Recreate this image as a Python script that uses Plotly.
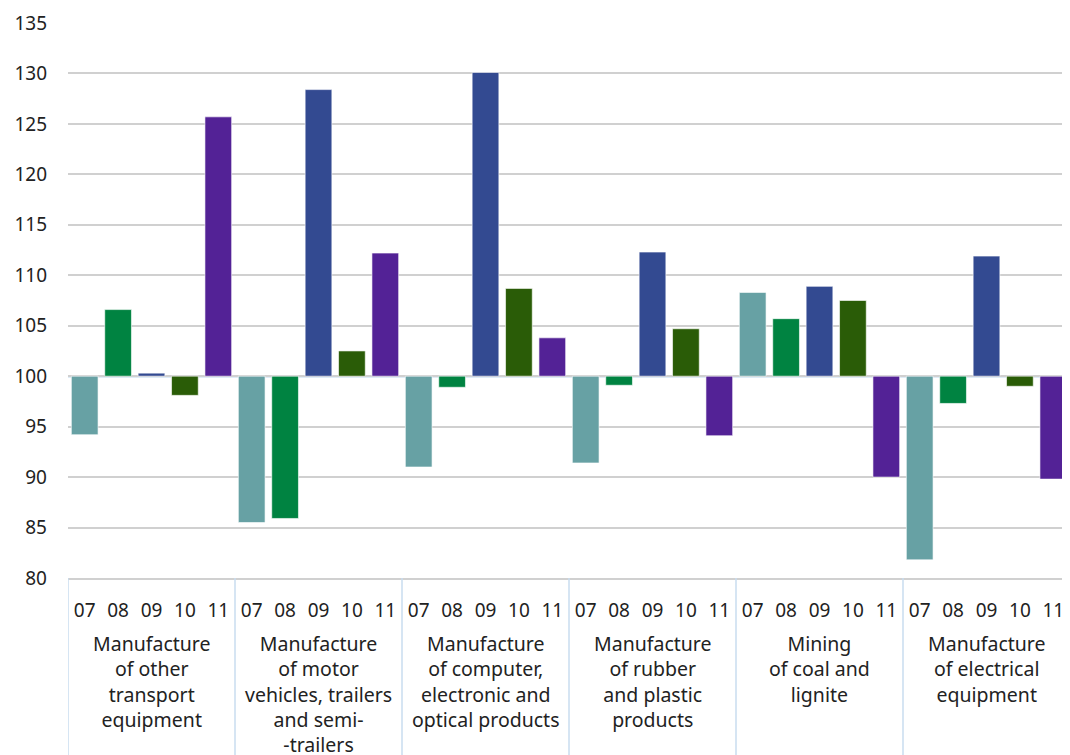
import plotly.graph_objects as go

categories = [
    "Manufacture<br>of other<br>transport<br>equipment",
    "Manufacture<br>of motor<br>vehicles, trailers<br>and semi-<br>-trailers",
    "Manufacture<br>of computer,<br>electronic and<br>optical products",
    "Manufacture<br>of rubber<br>and plastic<br>products",
    "Mining<br>of coal and<br>lignite",
    "Manufacture<br>of electrical<br>equipment",
]
periods = ["07", "08", "09", "10", "11"]

v07 = [94.2, 85.5, 91.0, 91.4, 108.3, 81.8]
v08 = [106.6, 85.9, 98.9, 99.1, 105.7, 97.3]
v09 = [100.3, 128.4, 130.1, 112.3, 108.9, 111.9]
v10 = [98.1, 102.5, 108.7, 104.7, 107.5, 99.0]
v11 = [125.7, 112.2, 103.8, 94.1, 90.0, 89.8]
series = [v07, v08, v09, v10, v11]

colors = ["#67A1A4", "#008341", "#334A91", "#2A5C07", "#532296"]
BASE = 100
FONT = "Noto Sans"

n_g = len(categories)
n_p = len(periods)

fig = go.Figure()
for pi, (p, vals, col) in enumerate(zip(periods, series, colors)):
    xs = [gi * n_p + pi for gi in range(n_g)]
    fig.add_trace(go.Bar(
        x=xs, y=[v - BASE for v in vals], base=BASE,
        name=p, marker=dict(color=col, line=dict(color="rgba(255,255,255,0.6)", width=1)),
        width=0.8,
        customdata=vals, hovertemplate="%{customdata}<extra>" + p + "</extra>",
    ))

tickvals = list(range(n_g * n_p))
ticktext = [periods[i % n_p] for i in tickvals]

shapes = [dict(type="line", xref="paper", yref="y", x0=0, x1=1, y0=BASE, y1=BASE,
               line=dict(color="#BDD7EE", width=2.5), layer="below")]
for gi in range(n_g + 1):
    xd = gi * n_p - 0.5
    shapes.append(dict(type="line", xref="x", yref="paper", x0=xd, x1=xd, y0=0, y1=-0.33,
                       line=dict(color="#C9DCEF", width=1.5)))

annotations = []
for gi, c in enumerate(categories):
    annotations.append(dict(
        x=gi * n_p + (n_p - 1) / 2, xref="x", y=0, yref="paper", yanchor="top",
        yshift=-50, text=c, showarrow=False, align="center",
        font=dict(family=FONT, size=19.5, color="#222222"),
    ))

# the page body has an 8px margin, so the figure is sized to end at the window edge
fig.update_layout(
    width=1062, height=747,
    margin=dict(l=60, r=0, t=15, b=177),
    plot_bgcolor="white", paper_bgcolor="white",
    showlegend=False, barmode="overlay",
    shapes=shapes, annotations=annotations,
    font=dict(family=FONT, size=19, color="#222222"),
)
fig.update_yaxes(range=[80, 135], dtick=5, tick0=80, showgrid=True,
                 gridcolor="#D0D0D0", gridwidth=1.5, zeroline=False,
                 ticklabelstandoff=20, showline=False, automargin=False,
                 tickfont=dict(family=FONT, size=19, color="#222222"))
fig.update_xaxes(range=[-0.5, n_g * n_p - 0.5], tickmode="array", tickvals=tickvals,
                 ticktext=ticktext, showgrid=False, zeroline=False,
                 showline=True, linecolor="#D0D0D0", linewidth=1.5,
                 ticks="", ticklabelstandoff=14, automargin=False,
                 tickfont=dict(family=FONT, size=19, color="#222222"))

fig.write_html("out.html")
